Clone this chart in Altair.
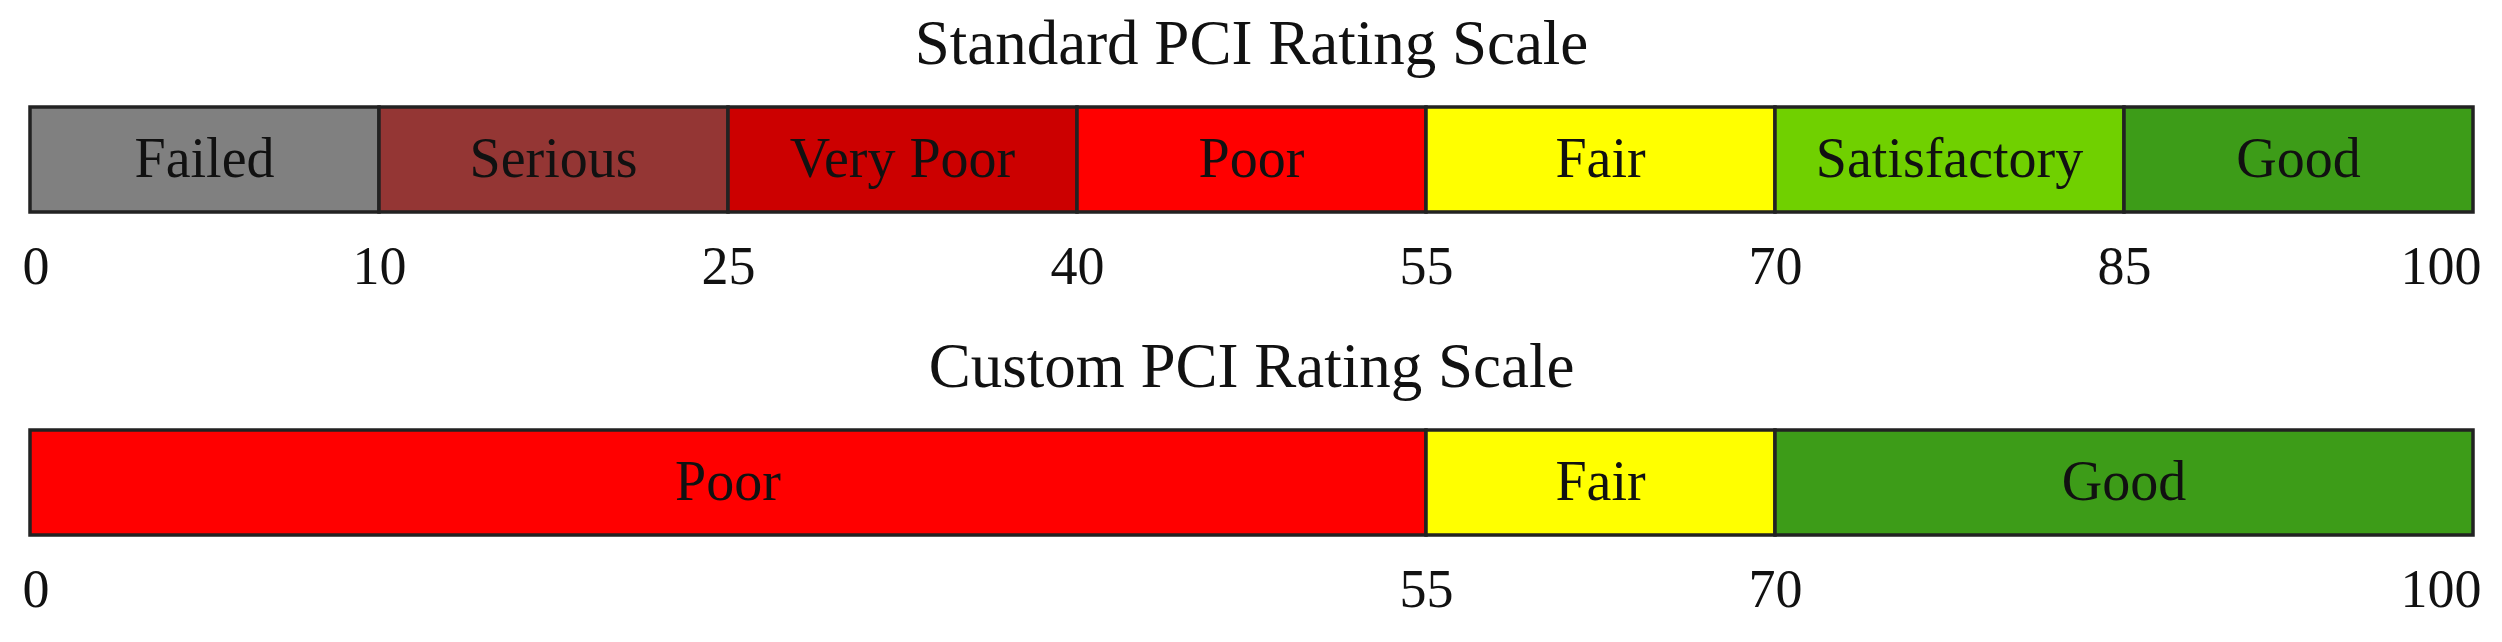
import altair as alt
import numpy as np
import pandas as pd

# ---- data ----
std_labels = ["Failed", "Serious", "Very Poor", "Poor", "Fair", "Satisfactory", "Good"]
std_bounds = [0, 10, 25, 40, 55, 70, 85, 100]
std_colors = ["#808080", "#943634", "#CC0000", "#FF0000", "#FFFF00", "#70D000", "#3D9C18"]

cus_labels = ["Poor", "Fair", "Good"]
cus_bounds = [0, 55, 70, 100]
cus_colors = ["#FF0000", "#FFFF00", "#3D9C18"]

titles = ["Standard PCI Rating Scale", "Custom PCI Rating Scale"]

# ---- layout constants ----
W = 2443
H = 105
FONT = "Liberation Serif"

# Piecewise scale: every standard band gets the same width, as in the reference
idx = np.arange(len(std_bounds))
x_range = [float(W * i / (len(std_bounds) - 1)) for i in idx]


def centre(s, e):
    us = np.interp(s, std_bounds, idx)
    ue = np.interp(e, std_bounds, idx)
    return float(np.interp((us + ue) / 2, idx, std_bounds))


def make_df(labels, bounds, colors):
    return pd.DataFrame({
        "label": labels,
        "start": bounds[:-1],
        "end": bounds[1:],
        "mid": [centre(s, e) for s, e in zip(bounds[:-1], bounds[1:])],
        "color": colors,
    })


def panel(labels, bounds, colors, title):
    df = make_df(labels, bounds, colors)
    xscale = alt.Scale(domain=std_bounds, range=x_range, nice=False, zero=False)
    axis = alt.Axis(
        values=bounds, title=None, ticks=False, tickSize=0, domain=False, grid=False,
        labelFont=FONT, labelFontSize=54, labelColor="#111111", labelPadding=28,
        labelFlush=True, labelFlushOffset=8, labelAngle=0, labelOverlap=False,
    )
    bars = alt.Chart(df).mark_rect(stroke="#222222", strokeWidth=3.5).encode(
        x=alt.X("start:Q", scale=xscale, axis=axis),
        x2="end:Q",
        color=alt.Color("color:N", scale=None),
    )
    texts = alt.Chart(df).mark_text(
        font=FONT, fontSize=56, color="#111111", baseline="middle", align="center"
    ).encode(
        x=alt.X("mid:Q", scale=xscale),
        text="label:N",
    )
    return alt.layer(bars, texts).properties(
        width=W, height=H,
        title=alt.TitleParams(
            title, font=FONT, fontSize=63, fontWeight="normal", color="#111111",
            offset=28, anchor="middle", frame="group",
        ),
    )


top = panel(std_labels, std_bounds, std_colors, titles[0])
bottom = panel(cus_labels, cus_bounds, cus_colors, titles[1])

chart = alt.vconcat(top, bottom, spacing=41).properties(
    padding={"left": 13, "top": 5, "right": 0, "bottom": 2}
).configure_view(stroke=None).configure(background="white")

chart.save("out.html", embed_options={"renderer": "svg", "actions": False})
